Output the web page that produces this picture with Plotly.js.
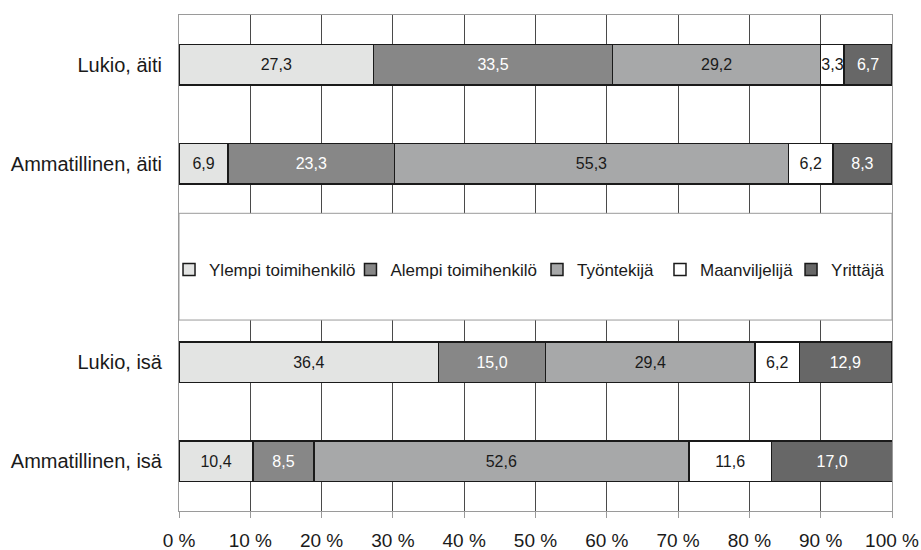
<!DOCTYPE html>
<html>
<head>
<meta charset="utf-8">
<script src="https://cdn.plot.ly/plotly-3.0.1.min.js"></script>
<style>
  html, body { margin: 0; padding: 0; background: #ffffff; }
  #chart { width: 921px; height: 550px; }
</style>
</head>
<body>
<div id="chart"></div>
<script>
// Categories, top to bottom (the blank slot holds the legend)
const categories = ['Lukio, äiti', 'Ammatillinen, äiti', ' ', 'Lukio, isä', 'Ammatillinen, isä'];
const barCategories = ['Lukio, äiti', 'Ammatillinen, äiti', 'Lukio, isä', 'Ammatillinen, isä'];

const seriesNames = ['Ylempi toimihenkilö', 'Alempi toimihenkilö', 'Työntekijä', 'Maanviljelijä', 'Yrittäjä'];

// Percent values per series, in barCategories order
const ylempi = [27.3, 6.9, 36.4, 10.4];
const alempi = [33.5, 23.3, 15.0, 8.5];
const tyontekija = [29.2, 55.3, 29.4, 52.6];
const maanviljelija = [3.3, 6.2, 6.2, 11.6];
const yrittaja = [6.7, 8.3, 12.9, 17.0];

const xTickValues = [0, 10, 20, 30, 40, 50, 60, 70, 80, 90, 100];
const xTickLabels = ['0 %', '10 %', '20 %', '30 %', '40 %', '50 %', '60 %', '70 %', '80 %', '90 %', '100 %'];

const seriesValues = [ylempi, alempi, tyontekija, maanviljelija, yrittaja];
const fillColors = ['#e3e4e3', '#878787', '#a7a8a9', '#ffffff', '#676767'];
const textColors = ['#1a1a1a', '#ffffff', '#1a1a1a', '#1a1a1a', '#ffffff'];
const legendIds = ['legend', 'legend2', 'legend3', 'legend4', 'legend5'];
const legendX = [-0.014, 0.2405, 0.5021, 0.6746, 0.8584];

const FONT = '"Liberation Sans", Arial, sans-serif';

const traces = seriesNames.map((name, i) => ({
  type: 'bar',
  orientation: 'h',
  name: name,
  y: barCategories,
  x: seriesValues[i],
  width: 0.41,
  marker: { color: fillColors[i], line: { color: '#1a1a1a', width: 1.5 } },
  texttemplate: '%{x:.1f}',
  textposition: 'inside',
  insidetextanchor: 'middle',
  textangle: 0,
  constraintext: 'none',
  textfont: { family: FONT, size: 16, color: textColors[i] },
  hoverinfo: 'skip',
  legend: legendIds[i]
}));

const layout = {
  width: 921,
  height: 550,
  margin: { l: 179, r: 29, t: 15, b: 39, pad: 0 },
  paper_bgcolor: '#ffffff',
  plot_bgcolor: '#ffffff',
  barmode: 'stack',
  separators: ', ',
  font: { family: FONT, size: 16, color: '#1a1a1a' },
  xaxis: {
    range: [0, 100],
    tickmode: 'array',
    tickvals: xTickValues,
    ticktext: xTickLabels,
    showgrid: true,
    gridcolor: '#4a4a4a',
    gridwidth: 1,
    zeroline: false,
    showline: true,
    linecolor: '#9a9a9a',
    linewidth: 1,
    mirror: true,
    ticks: 'outside',
    ticklen: 6,
    tickcolor: '#9a9a9a',
    tickfont: { family: FONT, size: 19, color: '#1a1a1a' },
    ticklabelstandoff: 6,
    fixedrange: true
  },
  yaxis: {
    type: 'category',
    categoryorder: 'array',
    categoryarray: categories,
    autorange: 'reversed',
    showgrid: false,
    zeroline: false,
    showline: true,
    linecolor: '#9a9a9a',
    linewidth: 1,
    mirror: true,
    ticks: '',
    ticklabelstandoff: 12,
    tickfont: { family: FONT, size: 20, color: '#1a1a1a' },
    fixedrange: true
  },
  shapes: [{
    type: 'rect',
    xref: 'paper', yref: 'paper',
    x0: 0, x1: 1, y0: 0.385, y1: 0.6002,
    fillcolor: '#ffffff',
    line: { color: '#9a9a9a', width: 1 },
    layer: 'above'
  }],
  showlegend: true
};

legendIds.forEach((id, i) => {
  layout[id] = {
    x: legendX[i], xanchor: 'left', xref: 'paper',
    y: 0.486, yanchor: 'middle', yref: 'paper',
    orientation: 'h',
    bgcolor: 'rgba(0,0,0,0)',
    borderwidth: 0,
    font: { family: FONT, size: 17, color: '#1a1a1a' },
    itemclick: false, itemdoubleclick: false
  };
});

Plotly.newPlot('chart', traces, layout, { displayModeBar: false, staticPlot: true });
</script>
</body>
</html>
